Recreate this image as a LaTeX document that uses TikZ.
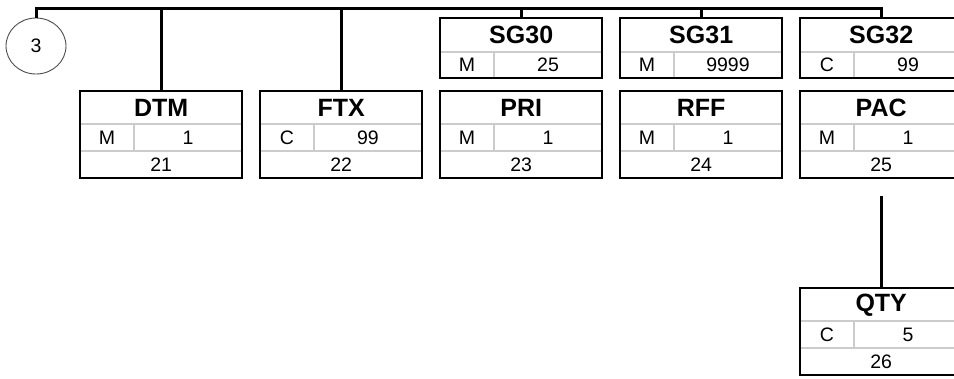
\documentclass[tikz,border=0pt]{standalone}
\usepackage{fontspec}
\setmainfont{Liberation Sans}
\usetikzlibrary{shapes.geometric}
\tikzset{
  conn/.style={line width=3pt, black},
  inner/.style={line width=1.8pt, color=black!20},
  outer/.style={line width=2pt, black},
  ttl/.style={font=\bfseries\fontsize{25}{25}\selectfont, inner sep=0pt},
  sml/.style={font=\fontsize{19.5}{19.5}\selectfont, inner sep=0pt},
}
% segment box: name, left x, top y, title, status, repeat, position
\newcommand\segbox[7]{%
  \node[anchor=north west, minimum width=162pt, minimum height=87pt, inner sep=0pt] (#1) at (#2,#3) {};
  \draw[inner] ([yshift=-33pt]#1.north west) -- ([yshift=-33pt]#1.north east);
  \draw[inner] ([yshift=-60pt]#1.north west) -- ([yshift=-60pt]#1.north east);
  \draw[inner] ([xshift=54pt,yshift=-33pt]#1.north west) -- ([xshift=54pt,yshift=-60pt]#1.north west);
  \draw[outer] (#1.north west) rectangle (#1.south east);
  \node[ttl] at ([yshift=-17pt]#1.north) {#4};
  \node[sml] at ([xshift=27pt,yshift=-46.5pt]#1.north west) {#5};
  \node[sml] at ([xshift=108pt,yshift=-46.5pt]#1.north west) {#6};
  \node[sml] at ([yshift=13.5pt]#1.south) {#7};
}
% group box: name, left x, top y, title, status, repeat
\newcommand\grpbox[6]{%
  \node[anchor=north west, minimum width=162pt, minimum height=60pt, inner sep=0pt] (#1) at (#2,#3) {};
  \draw[inner] ([yshift=-34pt]#1.north west) -- ([yshift=-34pt]#1.north east);
  \draw[inner] ([xshift=54pt,yshift=-34pt]#1.north west) -- ([xshift=54pt]#1.south west);
  \draw[outer] (#1.north west) rectangle (#1.south east);
  \node[ttl] at ([yshift=-17pt]#1.north) {#4};
  \node[sml] at ([xshift=27pt,yshift=-47pt]#1.north west) {#5};
  \node[sml] at ([xshift=108pt,yshift=-47pt]#1.north west) {#6};
}
\begin{document}
\begin{tikzpicture}[x=1pt,y=-1pt]
\useasboundingbox (0,0) rectangle (954,378);
\node[ellipse, draw=black!70, line width=0.9pt, minimum width=60pt, minimum height=56pt, inner sep=0pt, font=\fontsize{19.5}{19.5}\selectfont] (circ) at (36,46) {3};
\coordinate (top) at (36,8);

\segbox{dtm}{80}{91}{DTM}{M}{1}{21}
\segbox{ftx}{260}{91}{FTX}{C}{99}{22}
\segbox{pri}{440}{91}{PRI}{M}{1}{23}
\segbox{rff}{620}{91}{RFF}{M}{1}{24}
\segbox{pac}{800}{91}{PAC}{M}{1}{25}
\segbox{qty}{800}{288}{QTY}{C}{5}{26}

\grpbox{sg30}{440}{18}{SG30}{M}{25}
\grpbox{sg31}{620}{18}{SG31}{M}{9999}
\grpbox{sg32}{800}{18}{SG32}{C}{99}

\draw[conn] (circ.north) -- (top) -- (sg32.north |- top) -- (sg32.north);
\draw[conn] (dtm.north) -- (dtm.north |- top);
\draw[conn] (ftx.north) -- (ftx.north |- top);
\draw[conn] (sg30.north) -- (sg30.north |- top);
\draw[conn] (sg31.north) -- (sg31.north |- top);
\coordinate (pacdown) at ([yshift=-18pt]pac.south);
\draw[conn] (pacdown) -- (qty.north);
\end{tikzpicture}
\end{document}
